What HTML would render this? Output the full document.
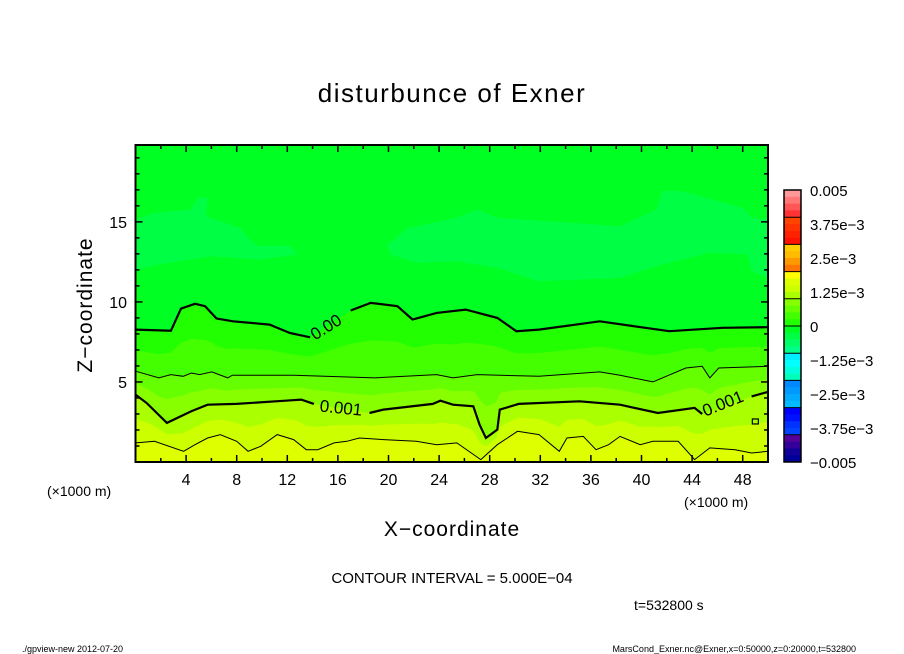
<!DOCTYPE html>
<html><head><meta charset="utf-8">
<style>
html,body{margin:0;padding:0;background:#fff;}
svg{display:block;font-family:"Liberation Sans","DejaVu Sans",sans-serif;}
</style></head>
<body>
<svg id="chart" width="904" height="654" viewBox="0 0 904 654" xmlns="http://www.w3.org/2000/svg">
<rect width="904" height="654" fill="#fff"/>
<text x="452" y="102" font-size="26" text-anchor="middle" letter-spacing="1.5">disturbunce of Exner</text>
<g id="plot"></g>
<g id="axes"></g>
<g id="cbar"></g>
<text transform="translate(92,305) rotate(-90)" font-size="21" text-anchor="middle" letter-spacing="1">Z−coordinate</text>
<text x="452" y="536" font-size="21" text-anchor="middle" letter-spacing="1">X−coordinate</text>
<text x="47" y="496" font-size="14">(×1000 m)</text>
<text x="684" y="507" font-size="14">(×1000 m)</text>
<text x="452" y="583" font-size="15" text-anchor="middle">CONTOUR INTERVAL = 5.000E−04</text>
<text x="634" y="610" font-size="14">t=532800 s</text>
<text x="22" y="652" font-size="9">./gpview-new  2012-07-20</text>
<text x="856" y="652" font-size="9" text-anchor="end">MarsCond_Exner.nc@Exner,x=0:50000,z=0:20000,t=532800</text>
</svg>
<script>
const xTicks=[4,8,12,16,20,24,28,32,36,40,44,48];
const zTicks=[5,10,15];
const cbarLabels=["0.005","3.75e-3","2.5e-3","1.25e-3","0","-1.25e-3","-2.5e-3","-3.75e-3","-0.005"];
const cbarColors=["#ff9999","#ff7777","#ff5555","#ff3333","#ff4400","#ff3300","#ff2200","#ff1100","#ffcc00","#ffbb00","#ff9900","#ff7700","#ffff00","#ddff00","#ccff00","#aaff00","#88ff00","#66ff00","#44ff00","#22ff00","#00ff22","#00ff44","#00ff66","#00ff88","#00eeff","#00ffff","#00ffdd","#00ffbb","#0088ff","#0099ff","#00aaff","#00bbff","#0000ff","#0011ff","#0033ff","#0044ff","#550099","#330099","#110099","#000099"];
const c0aX=[0,2.8,3.6,4.7,5.5,6.4,7.7,10.6,12.2,13.8];
const c0aZ=[8.27,8.2,9.58,9.88,9.73,8.96,8.79,8.58,8.06,7.79];
const c0bX=[17.0,18.6,20.7,21.9,23.8,26.1,28.6,30.1,31.9,36.7,40.3,42.2,46.4,50];
const c0bZ=[9.46,9.94,9.73,8.9,9.31,9.52,9.0,8.17,8.27,8.79,8.38,8.17,8.38,8.42];
const c05X=[0,1.84,2.8,3.77,4.41,5.06,6.03,7.3,7.65,12.5,18.9,23.8,25.1,27.0,31.9,36.7,38.3,40.9,43.5,44.8,45.4,46.1,50];
const c05Z=[5.67,5.25,5.46,5.35,5.56,5.46,5.63,5.25,5.42,5.42,5.25,5.46,5.25,5.46,5.35,5.63,5.42,5.0,5.87,5.98,5.25,5.87,5.98];
const c1aX=[0,0.87,2.48,4.41,5.7,7.97,11.85,13.1,14.1];
const c1aZ=[4.21,3.69,2.44,3.17,3.58,3.63,3.83,3.9,3.63];
const c1bX=[18.5,19.6,23.5,24.1,25.1,26.7,27.2,27.7,28.6,28.8,30.3,35.1,38.3,41.3,44.2,44.8];
const c1bZ=[3.06,3.27,3.63,3.83,3.58,3.48,2.33,1.5,2.02,3.27,3.63,3.79,3.58,3.06,3.38,3.0];
const c1cX=[48.7,50];
const c1cZ=[4.1,4.38];
const c15X=[0.05,1.5,3.8,4.7,5.7,6.7,8.0,8.9,9.9,11.2,12.5,13.5,14.4,15.7,16.7,17.7,19.6,22.2,23.8,25.4,27.3,28.6,30.2,31.9,33.5,34.1,35.4,36.4,37.4,38.3,39.9,40.9,42.9,44.2,45.4,47.4,48.7,50];
const c15Z=[1.19,1.29,0.67,1.08,1.5,1.71,1.29,0.67,0.98,1.71,1.4,0.77,0.77,1.19,1.29,1.5,1.4,1.29,1.08,1.19,0.15,1.08,1.92,1.71,0.67,1.5,1.6,0.77,1.08,1.6,1.08,1.29,1.29,0.15,0.88,0.77,0.56,0.67];
const patch1X=[0.06,1.5,4.4,4.9,5.7,5.55,8.3,8.9,9.6,12.2,12.8,9.9,6.0,1.8,0.06];
const patch1Z=[15.15,15.56,15.77,16.5,16.5,15.35,14.6,14.0,13.5,13.5,12.96,12.65,12.85,12.33,12.02];
const patch2X=[19.9,21.5,25.4,27.0,28.6,38.3,41.2,41.6,43.2,48.0,48.7,50,50,48.7,48.4,45.4,41.6,38.3,31.9,28.6,25.4,22.2,20.2];
const patch2Z=[13.58,14.6,15.25,15.77,15.25,14.73,15.77,16.92,16.92,15.88,15.25,15.15,11.5,11.92,12.96,13.06,12.33,11.5,11.29,12.13,12.54,12.44,12.96];

const X0=135.5,X1=768,Y0=462,Y1=145;
const sx=v=>X0+(v/50)*(X1-X0);
const sz=v=>Y0-(v/19.8)*(Y0-Y1);
const NS="http://www.w3.org/2000/svg";
function mk(tag,attrs,parent){const e=document.createElementNS(NS,tag);for(const k in attrs)e.setAttribute(k,attrs[k]);parent.appendChild(e);return e;}
function interp(xs,zs,x){if(x<=xs[0])return zs[0];for(let i=1;i<xs.length;i++){if(x<=xs[i]){const t=(x-xs[i-1])/(xs[i]-xs[i-1]);return zs[i-1]+t*(zs[i]-zs[i-1]);}}return zs[zs.length-1];}
const plot=document.getElementById('plot');
const grid=[];for(let i=0;i<=200;i++)grid.push(i*0.25);
const L0x=c0aX.concat(c0bX),L0z=c0aZ.concat(c0bZ);
const L1x=c1aX.concat(c1bX,c1cX),L1z=c1aZ.concat(c1bZ,c1cZ);
const f0=x=>interp(L0x,L0z,x),f05=x=>interp(c05X,c05Z,x),f1=x=>interp(L1x,L1z,x),f15=x=>interp(c15X,c15Z,x);
const layers=[
 [x=>0,"#ddff00"],[f15,"#ccff00"],[x=>(f15(x)+f1(x))/2,"#aaff00"],[f1,"#88ff00"],
 [x=>(f1(x)+f05(x))/2,"#66ff00"],[f05,"#44ff00"],[x=>(f05(x)+f0(x))/2,"#22ff00"],[f0,"#00ff22"]];
layers.forEach((ly,i)=>{
 let d="M"+sx(0)+","+sz(19.8);
 grid.forEach(x=>{d+=" L"+sx(x).toFixed(1)+","+sz(Math.max(0,ly[0](x))).toFixed(1);});
 d+=" L"+sx(50)+","+sz(19.8)+"Z";
 const p=mk('path',{d:d,fill:ly[1]},plot);
 
 
});
function poly(xs,zs){return xs.map((x,i)=>(i?"L":"M")+sx(x).toFixed(1)+","+sz(zs[i]).toFixed(1)).join(" ");}
[[patch1X,patch1Z],[patch2X,patch2Z]].forEach((p,i)=>{
 const e=mk('path',{d:poly(p[0],p[1])+"Z",fill:"#00ff44"},plot);
 
 
});
const lines=[[c0aX,c0aZ,2.2],[c0bX,c0bZ,2.2],[c05X,c05Z,1],[c1aX,c1aZ,2.2],[c1bX,c1bZ,2.2],[c1cX,c1cZ,2.2],[c15X,c15Z,1]];
lines.forEach((l,i)=>{
 const e=mk('path',{d:poly(l[0],l[1]),fill:"none",stroke:"#000","stroke-width":l[2]},plot);
 
 
});
[["0.00",15.3,8.5,-32],["0.001",16.2,3.4,6],["0.001",46.6,3.7,-22]].forEach((t,i)=>{
 const e=mk('text',{transform:`translate(${sx(t[1])},${sz(t[2])+6}) rotate(${t[3]})`,"font-size":17,"text-anchor":"middle"},plot);
 e.textContent=t[0];
 
 
});
const sq=mk('rect',{x:sx(49)-3,y:sz(2.5)-3,width:6,height:5,fill:"none",stroke:"#000","stroke-width":1.2},plot);



const axes=document.getElementById('axes');
const fr=mk('rect',{x:X0,y:Y1,width:X1-X0,height:Y0-Y1,fill:"none",stroke:"#000","stroke-width":2},axes);


for(let v=2;v<50;v+=2){
 const maj=v%4===0,len=maj?7:4;
 mk('line',{x1:sx(v),x2:sx(v),y1:Y0,y2:Y0-len,stroke:"#000","stroke-width":1.5},axes);
 mk('line',{x1:sx(v),x2:sx(v),y1:Y1,y2:Y1+len,stroke:"#000","stroke-width":1.5},axes);
}
for(let v=1;v<20;v++){
 const maj=v%5===0,len=maj?7:4;
 mk('line',{x1:X0,x2:X0+len,y1:sz(v),y2:sz(v),stroke:"#000","stroke-width":1.5},axes);
 mk('line',{x1:X1,x2:X1-len,y1:sz(v),y2:sz(v),stroke:"#000","stroke-width":1.5},axes);
}
xTicks.forEach(v=>{
 const t=mk('text',{x:sx(v),y:485,"font-size":16,"text-anchor":"middle"},axes);
 t.textContent=v;
 
 
});
zTicks.forEach(v=>{
 const t=mk('text',{x:127,y:sz(v)+6,"font-size":16,"text-anchor":"end"},axes);
 t.textContent=v;
 
 
});

const cb=document.getElementById('cbar');
const CX=784,CW=17,CT=190,CB=462,bh=(CB-CT)/cbarColors.length;
cbarColors.forEach((c,i)=>{
 const r=mk('rect',{x:CX,y:CT+i*bh,width:CW,height:bh+0.3,fill:c},cb);
 
 
});
for(let g=1;g<10;g++)mk('line',{x1:CX,x2:CX+CW,y1:CT+g*4*bh,y2:CT+g*4*bh,stroke:"#000","stroke-width":1},cb);
mk('rect',{x:CX,y:CT,width:CW,height:CB-CT,fill:"none",stroke:"#000","stroke-width":1.5},cb);
cbarLabels.forEach((s,i)=>{
 const t=mk('text',{x:810,y:CT+i*(CB-CT)/8+6,"font-size":15},cb);
 t.textContent=s.replace(/-/g,"−");
 
 
});
</script>
</body></html>
